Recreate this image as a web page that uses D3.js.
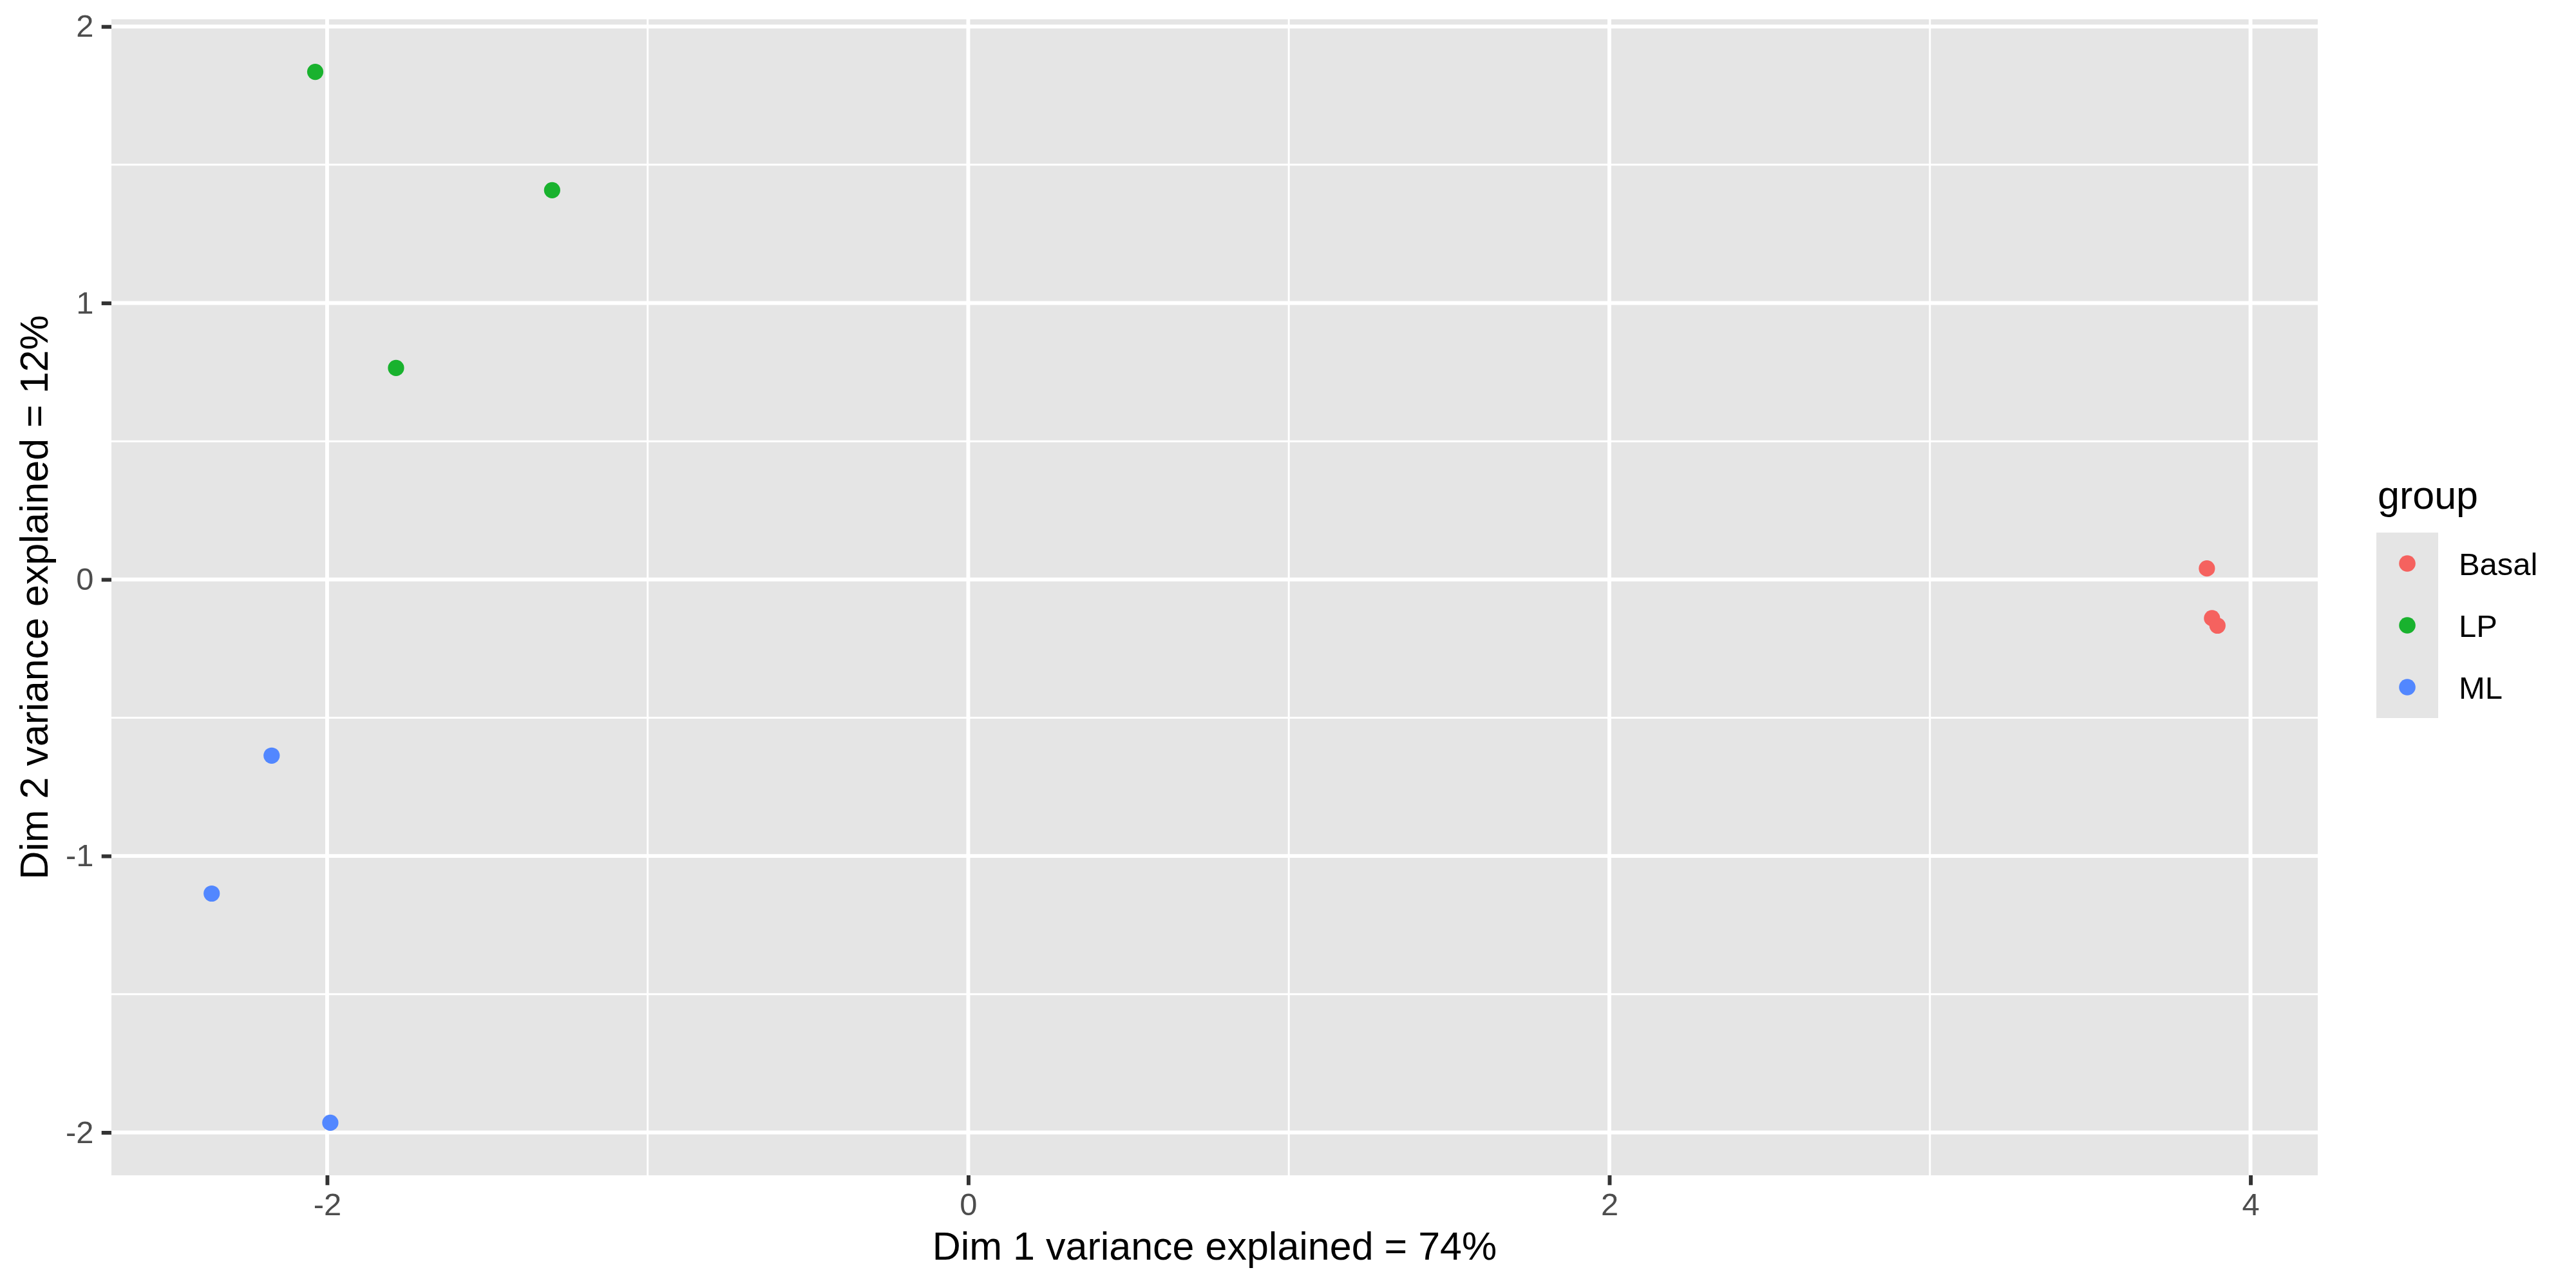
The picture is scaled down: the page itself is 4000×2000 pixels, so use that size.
<!DOCTYPE html>
<html>
<head>
<meta charset="utf-8">
<script src="https://cdn.jsdelivr.net/npm/d3@7"></script>
<style>
  html, body { margin: 0; padding: 0; background: #ffffff; }
  svg { display: block; }
  text { font-family: "Liberation Sans", Arial, Helvetica, sans-serif; }
</style>
</head>
<body>
<script>
// ---- data ----
const groups = ["Basal", "LP", "ML"];
const groupColors = ["#F5625F", "#19B22E", "#5287FF"];
const sampleGroup = ["Basal", "Basal", "Basal", "LP", "LP", "LP", "ML", "ML", "ML"];
const dim1 = [3.864, 3.880, 3.897, -2.037, -1.298, -1.785, -2.173, -2.360, -1.990];
const dim2 = [0.040, -0.140, -0.167, 1.836, 1.408, 0.765, -0.637, -1.136, -1.965];
const xTicks = [-2, 0, 2, 4];
const yTicks = [-2, -1, 0, 1, 2];
const xMinor = [-1, 1, 3];
const yMinor = [-1.5, -0.5, 0.5, 1.5];
const xTitle = "Dim 1 variance explained = 74%";
const yTitle = "Dim 2 variance explained = 12%";
const legendTitle = "group";

// ---- layout ----
const W = 4000, H = 2000;
const panel = { left: 173, top: 30, right: 3599, bottom: 1825 };
const majorW = 5.9, minorW = 2.95;
const tickLen = 15.3, tickPad = 12.2;
const tickFont = 48.9, titleFont = 61;

const svg = d3.select("body").append("svg")
  .attr("width", W).attr("height", H)
  .attr("viewBox", `0 0 ${W} ${H}`);

function expand(ext) {
  const r = ext[1] - ext[0];
  return [ext[0] - 0.05 * r, ext[1] + 0.05 * r];
}
const x = d3.scaleLinear().domain(expand(d3.extent(dim1))).range([panel.left, panel.right]);
const y = d3.scaleLinear().domain(expand(d3.extent(dim2))).range([panel.bottom, panel.top]);
const color = d3.scaleOrdinal().domain(groups).range(groupColors);

// panel background
svg.append("rect")
  .attr("x", panel.left).attr("y", panel.top)
  .attr("width", panel.right - panel.left).attr("height", panel.bottom - panel.top)
  .attr("fill", "#E5E5E5");

const grid = svg.append("g");
// minor grid
grid.selectAll("line.xminor").data(xMinor).join("line")
  .attr("x1", d => x(d)).attr("x2", d => x(d))
  .attr("y1", panel.top).attr("y2", panel.bottom)
  .attr("stroke", "#fff").attr("stroke-width", minorW);
grid.selectAll("line.yminor").data(yMinor).join("line")
  .attr("y1", d => y(d)).attr("y2", d => y(d))
  .attr("x1", panel.left).attr("x2", panel.right)
  .attr("stroke", "#fff").attr("stroke-width", minorW);
// major grid
grid.selectAll("line.xmajor").data(xTicks).join("line")
  .attr("x1", d => x(d)).attr("x2", d => x(d))
  .attr("y1", panel.top).attr("y2", panel.bottom)
  .attr("stroke", "#fff").attr("stroke-width", majorW);
grid.selectAll("line.ymajor").data(yTicks).join("line")
  .attr("y1", d => y(d)).attr("y2", d => y(d))
  .attr("x1", panel.left).attr("x2", panel.right)
  .attr("stroke", "#fff").attr("stroke-width", majorW);

// points
const idx = d3.range(dim1.length);
svg.append("g").selectAll("circle").data(idx).join("circle")
  .attr("cx", i => x(dim1[i]))
  .attr("cy", i => y(dim2[i]))
  .attr("r", 12.6)
  .attr("fill", i => color(sampleGroup[i]));

// axes
function styleAxis(g) {
  g.select(".domain").remove();
  g.selectAll(".tick line").attr("stroke", "#333333").attr("stroke-width", majorW);
  g.selectAll(".tick text")
    .attr("fill", "#4D4D4D")
    .style("font-size", tickFont + "px")
    .style("font-family", '"Liberation Sans", Arial, Helvetica, sans-serif');
}
svg.append("g")
  .attr("transform", `translate(0,${panel.bottom})`)
  .call(d3.axisBottom(x).tickValues(xTicks).tickFormat(d => String(d))
    .tickSize(tickLen).tickPadding(tickPad))
  .call(styleAxis);
svg.append("g")
  .attr("transform", `translate(${panel.left},0)`)
  .call(d3.axisLeft(y).tickValues(yTicks).tickFormat(d => String(d))
    .tickSize(tickLen).tickPadding(tickPad))
  .call(styleAxis);

// axis titles
svg.append("text")
  .attr("x", (panel.left + panel.right) / 2)
  .attr("y", 1956)
  .attr("text-anchor", "middle")
  .attr("fill", "#000")
  .style("font-size", titleFont + "px")
  .text(xTitle);
svg.append("text")
  .attr("transform", `translate(74,${(panel.top + panel.bottom) / 2}) rotate(-90)`)
  .attr("text-anchor", "middle")
  .attr("fill", "#000")
  .style("font-size", titleFont + "px")
  .text(yTitle);

// legend
const leg = svg.append("g").attr("transform", "translate(3690,827)");
const keySize = 96;
leg.append("text")
  .attr("x", 2).attr("y", -37)
  .attr("fill", "#000")
  .style("font-size", titleFont + "px")
  .text(legendTitle);
const items = leg.selectAll("g.item").data(groups).join("g")
  .attr("transform", (d, i) => `translate(0,${i * keySize})`);
items.append("rect")
  .attr("width", keySize).attr("height", keySize)
  .attr("fill", "#E5E5E5");
items.append("circle")
  .attr("cx", keySize / 2).attr("cy", keySize / 2).attr("r", 12.8)
  .attr("fill", d => color(d));
items.append("text")
  .attr("x", 128).attr("y", keySize / 2)
  .attr("dy", "0.36em")
  .attr("fill", "#000")
  .style("font-size", tickFont + "px")
  .text(d => d);
</script>
</body>
</html>
